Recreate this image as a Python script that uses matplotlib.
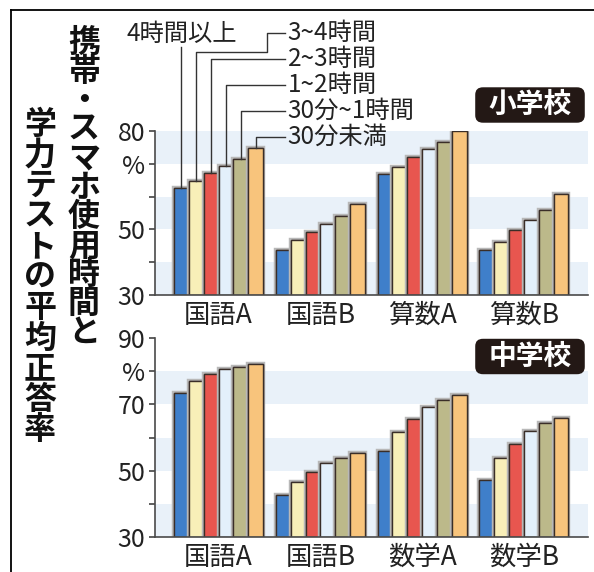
import matplotlib
matplotlib.use("Agg")
import matplotlib.pyplot as plt
import matplotlib.patheffects as pe
from matplotlib.patches import FancyBboxPatch
from matplotlib.lines import Line2D
import numpy as np

plt.rcParams['font.family'] = ['Noto Sans CJK JP', 'DejaVu Sans']

# usage time groups (legend order = bar order)
times = ["4時間以上", "3~4時間", "2~3時間", "1~2時間", "30分~1時間", "30分未満"]
colors = ["#3f7fca", "#f8efb8", "#e8564f", "#e3f0fb", "#bcb98a", "#f8c47c"]

# elementary school
elem_subjects = ["国語A", "国語B", "算数A", "算数B"]
elem_scores = [
    [62.7, 64.9, 67.1, 69.4, 71.5, 74.7],
    [43.7, 46.8, 49.3, 51.6, 54.1, 57.7],
    [66.9, 69.1, 72.0, 74.6, 76.7, 80.0],
    [43.7, 46.1, 49.8, 52.8, 56.0, 60.7],
]
# junior high school
jh_subjects = ["国語A", "国語B", "数学A", "数学B"]
jh_scores = [
    [73.5, 77.1, 79.1, 80.6, 81.4, 82.1],
    [42.6, 46.6, 49.7, 52.2, 53.7, 55.4],
    [55.9, 61.6, 65.7, 69.3, 71.3, 72.7],
    [47.2, 53.7, 58.0, 61.9, 64.3, 65.8],
]

W, H = 594, 572
fig = plt.figure(figsize=(W / 100, H / 100), dpi=100)


def fx(x):
    return x / W


def fy(y):
    return 1 - y / H


band = "#e9f1f9"
edge = "#3a2e28"
txt = "#222222"
bw = 0.146


def draw_panel(rect, subjects, scores, ylim, ticks, ticklabels):
    ax = fig.add_axes(rect)
    ax.set_xlim(-0.625, 3.63)
    ax.set_ylim(*ylim)
    for lo in (30, 50, 70):
        ax.axhspan(lo, lo + 10, color=band, zorder=0, lw=0)
    x = np.arange(len(subjects))
    for i in range(len(times)):
        vals = [s[i] for s in scores]
        ax.bar(x + (i - 2.5) * bw, np.array(vals) - ylim[0], bw, bottom=ylim[0],
               color=colors[i], edgecolor=edge, linewidth=1.0, zorder=3,
               path_effects=[pe.withStroke(linewidth=3.2, foreground="#b8b8b8"), pe.Normal()])
    for s in ("top", "right"):
        ax.spines[s].set_visible(False)
    for s in ("left", "bottom"):
        ax.spines[s].set_color("#4a4a4a")
        ax.spines[s].set_linewidth(1.2)
        ax.spines[s].set_zorder(4)
    ax.set_xticks(x)
    ax.set_xticklabels(subjects, fontsize=19, color=txt)
    ax.tick_params(axis="x", length=0, pad=5)
    ax.set_yticks(ticks)
    ax.set_yticklabels(ticklabels, fontsize=18, color=txt)
    ax.tick_params(axis="y", length=4, width=1.1, color="#333333", pad=3)
    return ax


ax1 = draw_panel([fx(155), fy(295), fx(588) - fx(155), fy(131) - fy(295)],
                 elem_subjects, elem_scores, (30, 80),
                 [30, 40, 50, 60, 70, 80], ["30", "", "50", "", "%", "80"])
ax2 = draw_panel([fx(155), fy(537), fx(588) - fx(155), fy(338) - fy(537)],
                 jh_subjects, jh_scores, (30, 90),
                 [30, 40, 50, 60, 70, 80, 90], ["30", "", "50", "", "70", "%", "90"])

# leader lines from the first elementary group to the time labels
lc = "#333333"
bx = [(i - 2.5) * bw for i in range(len(times))]
v0 = elem_scores[0]
lab_y = [109.6, 109.9, 101.95, 94.0, 86.1, 78.2]
x_end, x_txt = 0.652, 0.68
kw = dict(color=lc, lw=1.0, clip_on=False, zorder=5)
ax1.add_line(Line2D([bx[0], bx[0]], [v0[0], 105.6], **kw))
ax1.text(bx[0], lab_y[0], times[0], ha="center", va="center", fontsize=17.5, color=txt)
ax1.add_line(Line2D([bx[1], bx[1], 0.477, 0.477, x_end],
                    [v0[1], 104.1, 104.1, lab_y[1], lab_y[1]], **kw))
ax1.text(x_txt, lab_y[1], times[1], ha="left", va="center", fontsize=17.5, color=txt)
for i in range(2, len(times)):
    ax1.add_line(Line2D([bx[i], bx[i], x_end], [v0[i], lab_y[i], lab_y[i]], **kw))
    ax1.text(x_txt, lab_y[i], times[i], ha="left", va="center", fontsize=17.5, color=txt)

# school badges
for name, cy in (("小学校", 105), ("中学校", 356.5)):
    box = FancyBboxPatch((fx(477), fy(cy + 16)), fx(106), fy(cy - 16) - fy(cy + 16),
                         boxstyle="round,pad=0.003,rounding_size=0.013",
                         transform=fig.transFigure, facecolor="#231815", edgecolor="none")
    fig.patches.append(box)
    fig.text(fx(530), fy(cy), name, ha="center", va="center", fontsize=20,
             fontweight="bold", color="white")

# vertical title, two columns (right column read first)
col_r = "携帯・スマホ使用時間と"
col_l = "学力テストの平均正答率"
for k, ch in enumerate(col_r):
    fig.text(fx(84), fy(43 + 29 * k), ch, ha="center", va="center",
             fontsize=23, fontweight="bold", color="#111111")
for k, ch in enumerate(col_l):
    fig.text(fx(40), fy(125 + 30.5 * k), ch, ha="center", va="center",
             fontsize=23, fontweight="bold", color="#111111")

# frame (top and left edges)
fig.lines.append(Line2D([fx(11), fx(594)], [fy(10), fy(10)], transform=fig.transFigure,
                        color="black", lw=1.3))
fig.lines.append(Line2D([fx(11), fx(11)], [fy(10), fy(572)], transform=fig.transFigure,
                        color="black", lw=1.3))

fig.savefig("out.png", dpi=100)
